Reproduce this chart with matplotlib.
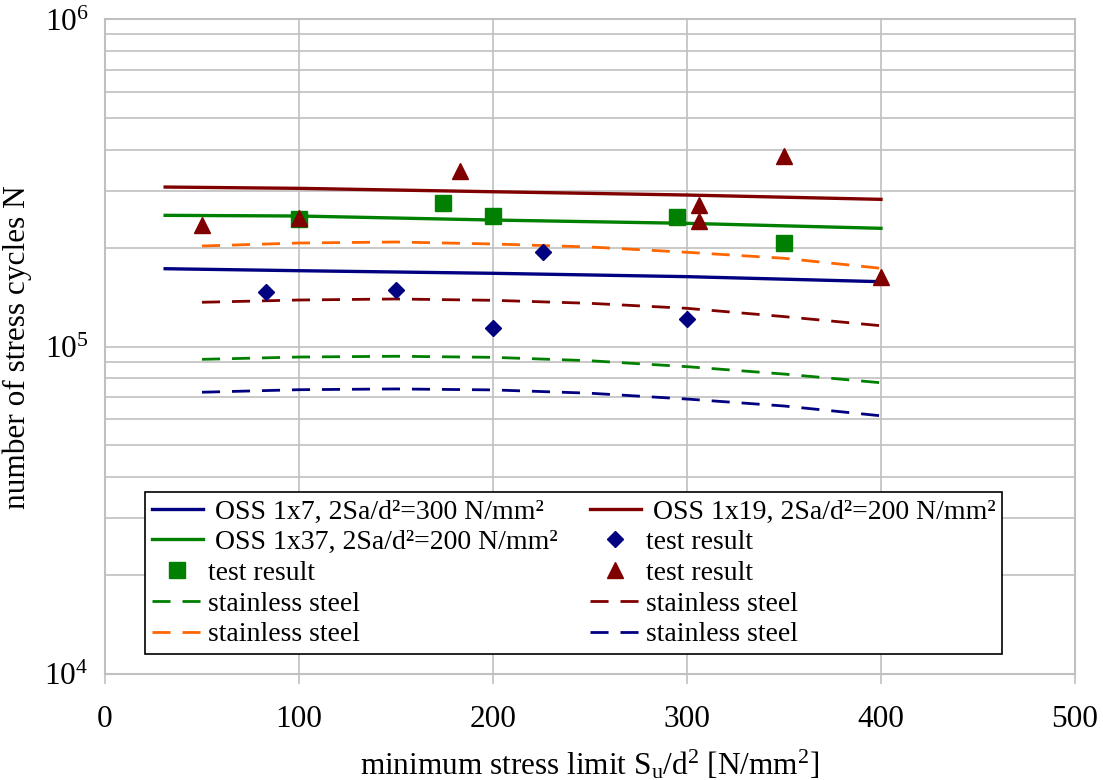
import matplotlib
matplotlib.use("Agg")
import matplotlib.pyplot as plt
from matplotlib.ticker import LogLocator, NullFormatter

plt.rcParams['font.family'] = ['Liberation Serif', 'DejaVu Serif']
plt.rcParams['mathtext.fontset'] = 'custom'
plt.rcParams['mathtext.rm'] = 'Liberation Serif'
plt.rcParams['mathtext.it'] = 'Liberation Serif:italic'

# datos
x_oss = [31, 100, 200, 300, 400]
n_oss_1x7 = [173100, 170700, 167600, 163700, 158000]
n_oss_1x19 = [307500, 304700, 297500, 290700, 282000]
n_oss_1x37 = [252000, 250800, 243800, 238200, 230000]

x_ss = [50, 100, 150, 200, 250, 300, 350, 400]
n_ss_green = [91500, 93000, 93500, 92800, 90600, 86900, 82500, 77600]
n_ss_red = [136700, 138900, 139900, 138600, 135700, 131000, 123600, 115900]
n_ss_orange = [203100, 207400, 208900, 206000, 201700, 194300, 186300, 173600]
n_ss_blue = [72600, 73900, 74300, 73800, 72100, 69200, 65900, 61500]

x_diamond = [83, 150, 200, 226, 300]
n_diamond = [147200, 149000, 114300, 195100, 121500]
x_square = [100, 174, 200, 295, 350]
n_square = [245500, 274200, 250300, 248600, 207000]
x_triangle = [50, 100, 183, 306, 306, 350, 400]
n_triangle = [235400, 247400, 344900, 271000, 242700, 383400, 163700]

blue = '#000080'
red = '#800000'
green = '#008000'
orange = '#ff6600'
gris = '#c0c0c0'

fig = plt.figure(figsize=(11.03, 7.80), dpi=100)
ax = fig.add_axes([0.0952, 0.1359, 0.8794, 0.8392])

dash = (6.5, 4.3)
l1, = ax.plot(x_oss, n_oss_1x7, color=blue, lw=2.4)
l2, = ax.plot(x_oss, n_oss_1x19, color=red, lw=2.4)
l3, = ax.plot(x_oss, n_oss_1x37, color=green, lw=2.4)
d1, = ax.plot(x_ss, n_ss_green, color=green, lw=2, dashes=dash)
d2, = ax.plot(x_ss, n_ss_red, color=red, lw=2, dashes=dash)
d3, = ax.plot(x_ss, n_ss_orange, color=orange, lw=2, dashes=dash)
d4, = ax.plot(x_ss, n_ss_blue, color=blue, lw=2, dashes=dash)
m1, = ax.plot(x_diamond, n_diamond, 'D', color=blue, ms=8, ls='none')
m2, = ax.plot(x_square, n_square, 's', color=green, ms=12, ls='none')
m3, = ax.plot(x_triangle, n_triangle, '^', color=red, ms=12, ls='none')

ax.set_yscale('log')
ax.set_xlim(0, 500)
ax.set_ylim(1e4, 1e6)
ax.set_xticks([0, 100, 200, 300, 400, 500])
ax.yaxis.set_major_locator(LogLocator(base=10, numticks=5))
ax.yaxis.set_minor_locator(LogLocator(base=10, subs=range(2, 10), numticks=20))
ax.yaxis.set_minor_formatter(NullFormatter())
ax.grid(True, which='both', color=gris, lw=1.2)
ax.set_axisbelow(True)
for s in ax.spines.values():
    s.set_color(gris)
    s.set_linewidth(1.5)
ax.tick_params(axis='x', direction='out', length=7, color=gris, width=1.2, pad=15, labelsize=22.5)
ax.tick_params(axis='y', which='both', length=0, pad=12, labelsize=22.5)

ax.set_xlabel('minimum stress limit S$_\\mathrm{u}$/d$^2$ [N/mm$^2$]', fontsize=22.5, labelpad=10)
ax.set_ylabel('number of stress cycles N', fontsize=22.5, labelpad=9)

handles = [l1, l3, m2, d1, d3, l2, m1, m3, d2, d4]
labels = [' OSS 1x7, 2Sa/d²=300 N/mm²', ' OSS 1x37, 2Sa/d²=200 N/mm²', 'test result',
          'stainless steel', 'stainless steel', ' OSS 1x19, 2Sa/d²=200 N/mm²',
          'test result', 'test result', 'stainless steel', 'stainless steel']
leg = ax.legend(handles, labels, ncol=2, loc='upper left',
                bbox_to_anchor=(0.0412, 0.278),
                fontsize=20, frameon=True, fancybox=False, framealpha=1,
                edgecolor='black', handlelength=1.84, handletextpad=0.18,
                labelspacing=0.19, columnspacing=1.15, borderpad=0.25, borderaxespad=0)
leg.get_frame().set_linewidth(1.2)

fig.savefig('out.png', dpi=100)
